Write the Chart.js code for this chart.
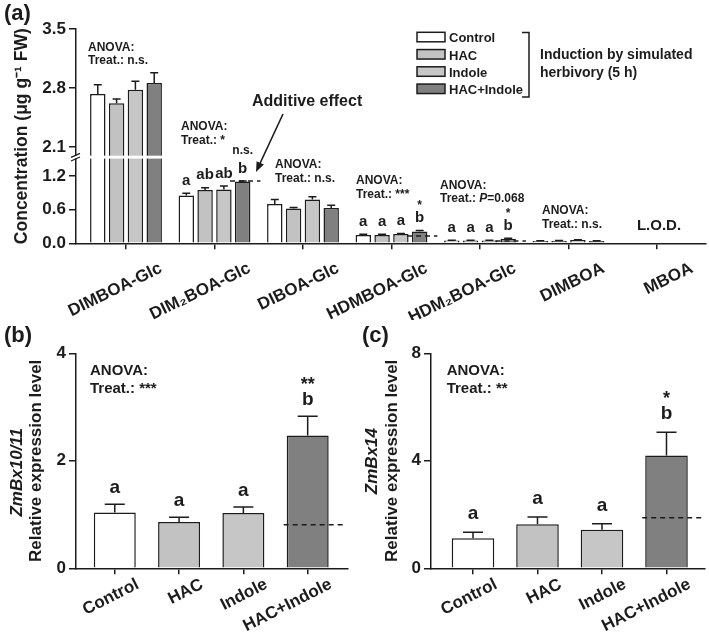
<!DOCTYPE html>
<html>
<head>
<meta charset="utf-8">
<script src="https://cdn.jsdelivr.net/npm/chart.js@4.4.1/dist/chart.umd.min.js"></script>
<style>
  body { margin: 0; background: #fff; width: 709px; height: 640px; position: relative; overflow: hidden; }
  canvas { position: absolute; }
</style>
</head>
<body>
<canvas id="chartA" width="709" height="320" style="left:0;top:0"></canvas>
<canvas id="chartB" width="355" height="320" style="left:0;top:320px"></canvas>
<canvas id="chartC" width="354" height="320" style="left:355px;top:320px"></canvas>
<script>
// ---- data ----
const treatments = ['Control', 'HAC', 'Indole', 'HAC+Indole'];
const treatColors = ['#ffffff', '#c2c2c2', '#c6c6c6', '#808080'];
const compounds = ['DIMBOA-Glc', 'DIM₂BOA-Glc', 'DIBOA-Glc', 'HDMBOA-Glc', 'HDM₂BOA-Glc', 'DIMBOA', 'MBOA'];

// panel (a) means per compound (MBOA below L.O.D.)
const concControl = [2.73, 0.85, 0.70, 0.15, 0.05, 0.04, null];
const concHAC     = [2.62, 0.95, 0.62, 0.15, 0.05, 0.045, null];
const concIndole  = [2.78, 0.96, 0.78, 0.165, 0.05, 0.06, null];
const concHACInd  = [2.86, 1.10, 0.63, 0.21, 0.08, 0.04, null];
// standard errors
const seControl = [0.11, 0.04, 0.08, 0.01, 0.005, 0.005, null];
const seHAC     = [0.05, 0.04, 0.02, 0.01, 0.005, 0.005, null];
const seIndole  = [0.10, 0.06, 0.05, 0.01, 0.005, 0.005, null];
const seHACInd  = [0.12, 0.01, 0.05, 0.02, 0.01, 0.005, null];
// expected additive value (dashed line)
const additiveA = [null, 1.11, null, 0.13, 0.04, null, null];
// letters / stars
const lettersControl = ['', 'a', '', 'a', 'a', '', ''];
const lettersHAC     = ['', 'ab', '', 'a', 'a', '', ''];
const lettersIndole  = ['', 'ab', '', 'a', 'a', '', ''];
const lettersHACInd  = ['', 'b', '', 'b', 'b', '', ''];
const starsHACInd    = ['', 'n.s.', '', '*', '*', '', ''];
const concTicks = [0, 0.6, 1.2, 2.1, 2.8, 3.5];

// panel (b) ZmBx10/11
const bx1011   = [1.04, 0.86, 1.03, 2.47];
const bx1011SE = [0.15, 0.09, 0.11, 0.36];
const bx1011Additive = [null, null, null, 0.81];
const lettersB = ['a', 'a', 'a', 'b'];
const starsB   = ['', '', '', '**'];
const ticksB   = [0, 2, 4];

// panel (c) ZmBx14
const bx14   = [1.12, 1.64, 1.43, 4.20];
const bx14SE = [0.22, 0.27, 0.23, 0.86];
const bx14Additive = [null, null, null, 1.88];
const lettersC = ['a', 'a', 'a', 'b'];
const starsC   = ['', '', '', '*'];
const ticksC   = [0, 4, 8];

// ---- setup ----
const INK = '#1c1c1c';
const FONT = 'Liberation Sans, Arial, Helvetica, sans-serif';
Chart.defaults.font.family = FONT;
Chart.defaults.color = INK;

// y scale with a break between ~1.5 and ~2.0
const BRK = { lo: 1.52, hi: 1.99, decLo: 0.398, decHi: 0.406 };
class BrokenScale extends Chart.LinearScale {
  toDec(v) {
    if (v <= BRK.lo) return v / BRK.lo * BRK.decLo;
    if (v >= BRK.hi) return BRK.decHi + (v - BRK.hi) / (this.max - BRK.hi) * (1 - BRK.decHi);
    return BRK.decLo + (v - BRK.lo) / (BRK.hi - BRK.lo) * (BRK.decHi - BRK.decLo);
  }
  getPixelForValue(v) {
    if (v === null || v === undefined) return NaN;
    return this.getPixelForDecimal(this.toDec(+v));
  }
  getValueForPixel(p) {
    const d = this.getDecimalForPixel(p);
    if (d <= BRK.decLo) return d / BRK.decLo * BRK.lo;
    if (d >= BRK.decHi) return BRK.hi + (d - BRK.decHi) / (1 - BRK.decHi) * (this.max - BRK.hi);
    return BRK.lo + (d - BRK.decLo) / (BRK.decHi - BRK.decLo) * (BRK.hi - BRK.lo);
  }
}
BrokenScale.id = 'broken';
BrokenScale.defaults = Chart.LinearScale.defaults;
Chart.register(BrokenScale);

const asXY = arr => arr.map((v, i) => ({ x: i, y: v }));

function text(ctx, str, x, y, font, align) {
  ctx.font = font;
  ctx.textAlign = align || 'left';
  ctx.textBaseline = 'alphabetic';
  ctx.fillStyle = INK;
  ctx.fillText(str, x, y);
}

// error bars + letters + additive dashed line
function barExtras(cfg) {
  return {
    id: 'barExtras',
    afterDatasetsDraw(chart) {
      const ctx = chart.ctx, ys = chart.scales.y;
      ctx.save();
      cfg.values.forEach((vals, d) => {
        const meta = chart.getDatasetMeta(d);
        meta.data.forEach((bar, j) => {
          const v = vals[j], se = cfg.se[d][j];
          if (v === null || se === null) return;
          const top = ys.getPixelForValue(v + se);
          ctx.strokeStyle = INK;
          ctx.lineWidth = 1.5;
          ctx.beginPath();
          ctx.moveTo(bar.x, bar.y);
          ctx.lineTo(bar.x, top);
          ctx.moveTo(bar.x - cfg.cap / 2, top);
          ctx.lineTo(bar.x + cfg.cap / 2, top);
          ctx.stroke();
          const letter = cfg.letters[d] && cfg.letters[d][j];
          if (letter) {
            const bl = top - cfg.gap;
            text(ctx, letter, bar.x, bl, cfg.letterFont, 'center');
            const star = cfg.stars[d] && cfg.stars[d][j];
            if (star) {
              const off = star.charAt(0) === '*' ? cfg.starGap : cfg.starGap + 6;
              text(ctx, star, bar.x, bl - off, cfg.starFont, 'center');
            }
          }
        });
      });
      // dashed additive expectation at the HAC+Indole bar
      const last = chart.getDatasetMeta(cfg.values.length - 1);
      cfg.additive.forEach((a, j) => {
        if (a === null) return;
        const bar = last.data[j];
        const y = ys.getPixelForValue(a);
        ctx.setLineDash([5, 4]);
        ctx.lineWidth = 1.5;
        ctx.strokeStyle = INK;
        ctx.beginPath();
        ctx.moveTo(bar.x - bar.width / 2 - cfg.dashL, y);
        ctx.lineTo(bar.x + bar.width / 2 + cfg.dashR, y);
        ctx.stroke();
        ctx.setLineDash([]);
      });
      ctx.restore();
    }
  };
}

function axisOpts(over) {
  return Object.assign({
    grid: { display: true, drawOnChartArea: false, drawTicks: true, tickLength: 6, color: INK, lineWidth: 1.5, offset: false },
    border: { display: true, color: INK, width: 1.5 }
  }, over);
}

// keep the rotated labels from pushing the plot area inwards
function fixX(h) {
  return s => { s.height = h; s.paddingLeft = 0; s.paddingRight = 0; };
}

// ---- panel (a) ----
new Chart(document.getElementById('chartA'), {
  type: 'bar',
  data: {
    datasets: [concControl, concHAC, concIndole, concHACInd].map((arr, i) => ({
      label: treatments[i],
      data: asXY(arr),
      backgroundColor: treatColors[i],
      borderColor: INK,
      borderWidth: 1.5,
      categoryPercentage: 0.85,
      barPercentage: 0.82
    }))
  },
  options: {
    responsive: false,
    animation: false,
    layout: { padding: { top: 29, right: 3, left: 0, bottom: 0 } },
    plugins: { legend: { display: false }, tooltip: { enabled: false } },
    scales: {
      x: axisOpts({
        type: 'linear', min: -0.565, max: 6.554, offset: false,
        afterBuildTicks: s => { s.ticks = compounds.map((c, i) => ({ value: i })); },
        afterFit: fixX(76.7),
        ticks: {
          autoSkip: false, minRotation: 26, maxRotation: 26, padding: 9, labelOffset: 35,
          font: { size: 17, weight: 'bold' }, color: INK,
          callback: v => compounds[v]
        }
      }),
      y: axisOpts({
        type: 'broken', min: 0, max: 3.5,
        afterBuildTicks: s => { s.ticks = concTicks.map(v => ({ value: v })); },
        afterFit: s => { s.width = 76; },
        grid: { display: true, drawOnChartArea: false, tickLength: 7, color: INK, lineWidth: 1.5 },
        ticks: { font: { size: 17, weight: 'bold' }, color: INK, padding: 3, callback: v => v.toFixed(1) },
        title: { display: true, text: 'Concentration (μg g⁻¹ FW)', font: { size: 17.5, weight: 'bold' }, color: INK, padding: { top: 12, bottom: 0 } }
      })
    }
  },
  plugins: [
    barExtras({
      values: [concControl, concHAC, concIndole, concHACInd],
      se: [seControl, seHAC, seIndole, seHACInd],
      letters: [lettersControl, lettersHAC, lettersIndole, lettersHACInd],
      stars: [null, null, null, starsHACInd],
      additive: additiveA,
      cap: 8, gap: 8.5, starGap: 13, dashL: 5, dashR: 10,
      letterFont: 'bold 15px ' + FONT, starFont: 'bold 12px ' + FONT
    }),
    {
      id: 'decorA',
      afterDraw(chart) {
        const ctx = chart.ctx, ys = chart.scales.y, xs = chart.scales.x, area = chart.chartArea;
        ctx.save();
        // axis break
        const yb1 = ys.getPixelForValue(BRK.lo), yb2 = ys.getPixelForValue(BRK.hi);
        ctx.fillStyle = '#fff';
        ctx.fillRect(area.left - 2, yb2 - 0.6, area.right - area.left + 4, yb1 - yb2 + 1.2);
        ctx.strokeStyle = INK;
        ctx.lineWidth = 1.3;
        ctx.beginPath();
        ctx.moveTo(area.left - 5, yb1 + 3); ctx.lineTo(area.left + 4, yb1 - 1);
        ctx.moveTo(area.left - 5, yb2 + 1); ctx.lineTo(area.left + 4, yb2 - 3);
        ctx.stroke();

        text(ctx, '(a)', 4, 20, 'bold 22px ' + FONT);
        const sm = 'bold 12px ' + FONT;
        const anova = [
          [88, 50.5, 'Treat.: n.s.'],
          [181, 130, 'Treat.: *'],
          [275, 168, 'Treat.: n.s.'],
          [356, 184, 'Treat.: ***'],
          [542, 214, 'Treat.: n.s.']
        ];
        anova.forEach(([x, y, t]) => {
          text(ctx, 'ANOVA:', x, y, sm);
          text(ctx, t, x, y + 13.5, sm);
        });
        // P=0.068 with italic P
        text(ctx, 'ANOVA:', 440, 188.5, sm);
        ctx.font = sm;
        let px = 440;
        text(ctx, 'Treat.: ', px, 202, sm); px += ctx.measureText('Treat.: ').width;
        ctx.font = 'italic bold 12px ' + FONT;
        text(ctx, 'P', px, 202, 'italic bold 12px ' + FONT); px += ctx.measureText('P').width;
        text(ctx, '=0.068', px, 202, sm);

        text(ctx, 'L.O.D.', xs.getPixelForValue(6) + 2, 230, 'bold 15px ' + FONT, 'center');

        // additive effect arrow
        text(ctx, 'Additive effect', 252, 106, 'bold 16px ' + FONT);
        const x0 = 283, y0 = 114, x1 = 256, y1 = 172;
        const ang = Math.atan2(y1 - y0, x1 - x0);
        ctx.strokeStyle = INK; ctx.fillStyle = INK; ctx.lineWidth = 1.6;
        ctx.beginPath();
        ctx.moveTo(x0, y0);
        ctx.lineTo(x1 - 8 * Math.cos(ang), y1 - 8 * Math.sin(ang));
        ctx.stroke();
        ctx.beginPath();
        ctx.moveTo(x1, y1);
        ctx.lineTo(x1 - 10 * Math.cos(ang) + 4 * Math.sin(ang), y1 - 10 * Math.sin(ang) - 4 * Math.cos(ang));
        ctx.lineTo(x1 - 10 * Math.cos(ang) - 4 * Math.sin(ang), y1 - 10 * Math.sin(ang) + 4 * Math.cos(ang));
        ctx.closePath();
        ctx.fill();

        // legend
        chart.data.datasets.forEach((ds, i) => {
          const top = 32.3 + i * 17.25;
          ctx.fillStyle = ds.backgroundColor;
          ctx.fillRect(417, top, 28, 9.5);
          ctx.strokeStyle = INK; ctx.lineWidth = 1.5;
          ctx.strokeRect(417, top, 28, 9.5);
          text(ctx, ds.label, 449, top + 10, 'bold 13px ' + FONT);
        });
        ctx.strokeStyle = INK; ctx.lineWidth = 1.5;
        ctx.beginPath();
        ctx.moveTo(522, 32.5); ctx.lineTo(529, 32.5); ctx.lineTo(529, 97); ctx.lineTo(522, 97);
        ctx.stroke();
        text(ctx, 'Induction by simulated', 540, 59, 'bold 14px ' + FONT);
        text(ctx, 'herbivory (5 h)', 540, 77, 'bold 14px ' + FONT);
        ctx.restore();
      }
    }
  ]
});

// ---- panels (b) and (c) ----
function exprChart(id, vals, se, additive, letters, stars, ticks, gene, tag, cfg) {
  new Chart(document.getElementById(id), {
    type: 'bar',
    data: {
      datasets: [{
        label: gene,
        data: asXY(vals),
        backgroundColor: treatColors,
        borderColor: INK,
        borderWidth: 1.5,
        categoryPercentage: 1,
        barPercentage: cfg.barPct
      }]
    },
    options: {
      responsive: false,
      animation: false,
      layout: { padding: { top: 33.3, right: cfg.right, left: 0, bottom: 0 } },
      plugins: { legend: { display: false }, tooltip: { enabled: false } },
      scales: {
        x: axisOpts({
          type: 'linear', min: cfg.xmin, max: cfg.xmax, offset: false,
          afterBuildTicks: s => { s.ticks = treatments.map((t, i) => ({ value: i })); },
          afterFit: fixX(71.7),
          ticks: {
            autoSkip: false, minRotation: 27, maxRotation: 27, padding: 0, labelOffset: 23,
            font: { size: 17, weight: 'bold' }, color: INK,
            callback: v => treatments[v]
          }
        }),
        y: axisOpts({
          min: ticks[0], max: ticks[ticks.length - 1],
          afterBuildTicks: s => { s.ticks = ticks.map(v => ({ value: v })); },
          afterFit: s => { s.width = 76; },
          grid: { display: true, drawOnChartArea: false, tickLength: 7, color: INK, lineWidth: 1.5 },
          ticks: { font: { size: 17, weight: 'bold' }, color: INK, padding: 3 },
          title: { display: true, text: 'Relative expression level', font: { size: 17, weight: 'bold' }, color: INK, padding: { top: cfg.titlePad, bottom: 0 } }
        })
      }
    },
    plugins: [
      barExtras({
        values: [vals], se: [se], letters: [letters], stars: [stars], additive: additive,
        cap: 20, gap: cfg.gap, starGap: 15, dashL: 3, dashR: 14,
        letterFont: 'bold 19px ' + FONT, starFont: 'bold 18px ' + FONT
      }),
      {
        id: 'decor' + id,
        afterDraw(chart) {
          const ctx = chart.ctx;
          ctx.save();
          text(ctx, tag, cfg.tagX, 22, 'bold 22px ' + FONT);
          text(ctx, 'ANOVA:', cfg.anovaX, 54.5, 'bold 15px ' + FONT);
          text(ctx, cfg.anova, cfg.anovaX, 72.7, 'bold 15px ' + FONT);
          // italic gene name, first line of the y title
          ctx.translate(17, 108);
          ctx.rotate(-Math.PI / 2);
          ctx.font = 'italic bold 17px ' + FONT;
          ctx.textAlign = 'right';
          ctx.textBaseline = 'middle';
          ctx.fillStyle = INK;
          ctx.fillText(gene, 0, 0);
          ctx.restore();
        }
      }
    ]
  });
}

exprChart('chartB', bx1011, bx1011SE, bx1011Additive, lettersB, starsB, ticksB, 'ZmBx10/11', '(b)',
  { xmin: -0.603, xmax: 3.627, right: 7, barPct: 0.653, gap: 11, titlePad: 25.8, tagX: 4, anovaX: 90, anova: 'Treat.: ***' });
exprChart('chartC', bx14, bx14SE, bx14Additive, lettersC, starsC, ticksC, 'ZmBx14', '(c)',
  { xmin: -0.651, xmax: 3.597, right: 4, barPct: 0.66, gap: 13, titlePad: 26.8, tagX: 7, anovaX: 91.7, anova: 'Treat.: **' });
</script>
</body>
</html>
